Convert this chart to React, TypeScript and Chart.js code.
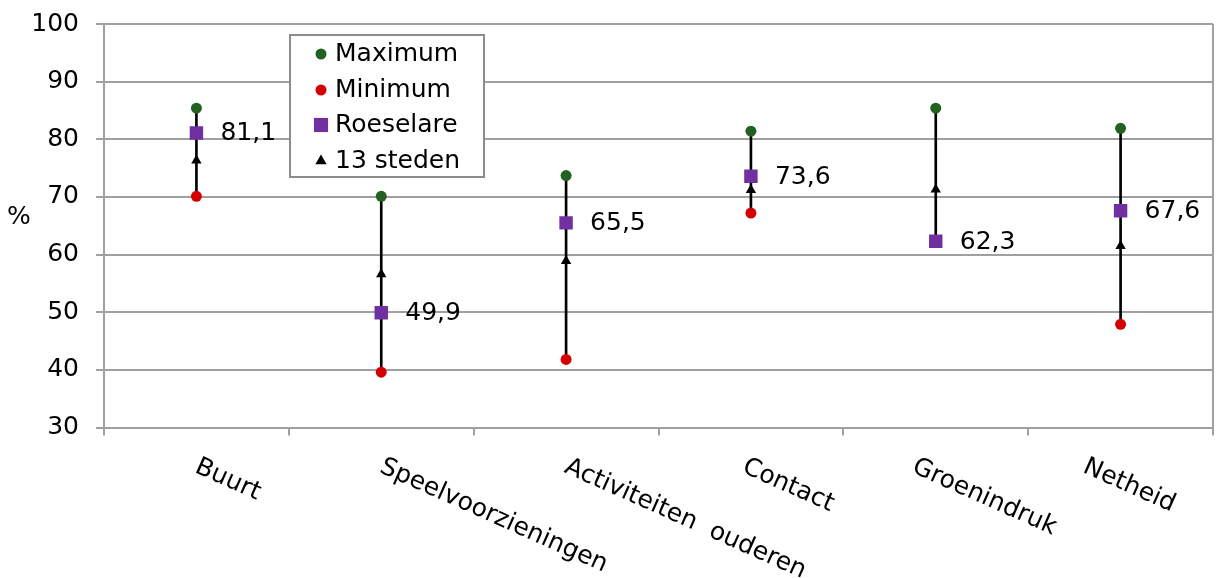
import React, { useEffect, useRef } from 'react';
import { Chart, registerables } from 'chart.js';

Chart.register(...registerables);

// ---- data ----
const categories = ['Buurt', 'Speelvoorzieningen', 'Activiteiten  ouderen', 'Contact', 'Groenindruk', 'Netheid'];
const maximum = [85.4, 70.1, 73.7, 81.4, 85.4, 81.9];
const minimum = [70.1, 39.6, 41.8, 67.2, 62.3, 47.9];
const roeselare = [81.1, 49.9, 65.5, 73.6, 62.3, 67.6];
const steden13 = [76.3, 56.6, 58.9, 71.2, 71.3, 61.5];
const yMin = 30;
const yMax = 100;
const yStep = 10;
const yTitle = '%';

// ---- layout / style constants ----
const FONT = '"DejaVu Sans", Verdana, sans-serif';
const FS = 25;
const GRID = '#a0a0a0';
const GREEN = '#236123';
const RED = '#d40000';
const PURPLE = '#7030a0';
const LABEL_ANGLE = (24 * Math.PI) / 180;
const LABEL_SHIFT = [5, 5, 5, -2, -17, -31];

function drawMarker(ctx: CanvasRenderingContext2D, style: string, x: number, y: number, r: number, color: string) {
  ctx.save();
  ctx.fillStyle = color;
  ctx.beginPath();
  if (style === 'rect') {
    const s = Math.SQRT1_2 * r;
    ctx.rect(x - s, y - s, 2 * s, 2 * s);
  } else if (style === 'triangle') {
    ctx.moveTo(x, y - r);
    ctx.lineTo(x + 0.866 * r, y + 0.5 * r);
    ctx.lineTo(x - 0.866 * r, y + 0.5 * r);
    ctx.closePath();
  } else {
    ctx.arc(x, y, r, 0, Math.PI * 2);
  }
  ctx.fill();
  ctx.restore();
}

const decorPlugin = {
  id: 'decor',
  beforeDatasetsDraw(chart: any) {
    const { ctx, chartArea } = chart;
    ctx.save();
    ctx.strokeStyle = GRID;
    ctx.lineWidth = 2;
    ctx.beginPath();
    ctx.moveTo(chartArea.right, chartArea.top);
    ctx.lineTo(chartArea.right, chartArea.bottom);
    ctx.stroke();
    ctx.restore();
  },
  afterDraw(chart: any) {
    const { ctx, chartArea } = chart;
    const xs = chart.scales.x;
    const ys = chart.scales.y;
    ctx.save();
    ctx.fillStyle = '#000';
    ctx.font = `${FS}px ${FONT}`;

    // y title
    ctx.textAlign = 'center';
    ctx.textBaseline = 'middle';
    ctx.fillText(yTitle, 19, (chartArea.top + chartArea.bottom) / 2 - 8);

    // rotated category labels
    categories.forEach((c, i) => {
      const x = xs.getPixelForValue(i) + LABEL_SHIFT[i];
      ctx.save();
      ctx.translate(x, chartArea.bottom + 27);
      ctx.rotate(LABEL_ANGLE);
      ctx.textAlign = 'left';
      ctx.textBaseline = 'top';
      ctx.fillText(c, 0, 0);
      ctx.restore();
    });

    // Roeselare value labels
    ctx.textAlign = 'left';
    ctx.textBaseline = 'middle';
    roeselare.forEach((v, i) => {
      const x = xs.getPixelForValue(i);
      const y = ys.getPixelForValue(v);
      ctx.fillText(v.toFixed(1).replace('.', ','), x + 24, y + 1);
    });

    // legend box
    const bx = 290, by = 35, bw = 194, bh = 142;
    ctx.fillStyle = '#fff';
    ctx.fillRect(bx, by, bw, bh);
    ctx.strokeStyle = '#8c8c8c';
    ctx.lineWidth = 2;
    ctx.strokeRect(bx, by, bw, bh);
    const rows = [53, 89, 124, 160];
    chart.data.datasets.slice(1).forEach((ds: any, i: number) => {
      drawMarker(ctx, ds.pointStyle, 321, rows[i] + 1, ds.legendRadius, ds.backgroundColor);
      ctx.fillStyle = '#000';
      ctx.textAlign = 'left';
      ctx.textBaseline = 'middle';
      ctx.fillText(ds.label, 335, rows[i] + 1);
    });
    ctx.restore();
  },
};

export default function App() {
  const ref = useRef<HTMLCanvasElement | null>(null);

  useEffect(() => {
    document.body.style.margin = '0';
    if (!ref.current) return;
    const chart = new Chart(ref.current, {
      type: 'bar',
      data: {
        labels: categories,
        datasets: [
          {
            type: 'bar',
            label: 'range',
            data: categories.map((_, i) => [minimum[i], maximum[i]]) as any,
            backgroundColor: '#000',
            borderWidth: 0,
            barThickness: 2,
            order: 10,
          } as any,
          {
            type: 'line',
            label: 'Maximum',
            data: maximum,
            showLine: false,
            pointStyle: 'circle',
            pointRadius: 5.5,
            legendRadius: 5.5,
            backgroundColor: GREEN,
            borderColor: GREEN,
            pointBorderWidth: 0,
            order: 3,
          } as any,
          {
            type: 'line',
            label: 'Minimum',
            data: minimum,
            showLine: false,
            pointStyle: 'circle',
            pointRadius: 5.5,
            legendRadius: 5.5,
            backgroundColor: RED,
            borderColor: RED,
            pointBorderWidth: 0,
            order: 3,
          } as any,
          {
            type: 'line',
            label: 'Roeselare',
            data: roeselare,
            showLine: false,
            pointStyle: 'rect',
            pointRadius: 9.5,
            legendRadius: 10,
            backgroundColor: PURPLE,
            borderColor: PURPLE,
            pointBorderWidth: 0,
            order: 1,
          } as any,
          {
            type: 'line',
            label: '13 steden',
            data: steden13,
            showLine: false,
            pointStyle: 'triangle',
            pointRadius: 6,
            legendRadius: 6.5,
            backgroundColor: '#000',
            borderColor: '#000',
            pointBorderWidth: 0,
            order: 2,
          } as any,
        ],
      },
      options: {
        animation: false,
        responsive: true,
        maintainAspectRatio: false,
        events: [],
        layout: { autoPadding: false, padding: { top: 24, right: 3, bottom: 0, left: 0 } },
        plugins: {
          legend: { display: false },
          tooltip: { enabled: false },
        },
        scales: {
          x: {
            offset: true,
            grid: {
              offset: true,
              drawOnChartArea: false,
              drawTicks: true,
              tickLength: 8,
              color: GRID,
              lineWidth: 2,
            },
            border: { display: true, color: GRID, width: 2 },
            ticks: { display: false },
            afterFit(scale: any) {
              scale.height = 150.5;
            },
          },
          y: {
            min: yMin,
            max: yMax,
            grid: { color: GRID, lineWidth: 2, tickLength: 8, drawTicks: true },
            border: { display: true, color: GRID, width: 2 },
            ticks: {
              stepSize: yStep,
              padding: 17,
              color: '#000',
              font: { family: FONT, size: FS },
            },
            afterFit(scale: any) {
              scale.width = 104;
              scale.paddingTop = 0;
              scale.paddingBottom = 0;
            },
          },
        },
      },
      plugins: [decorPlugin],
    });
    return () => chart.destroy();
  }, []);

  return (
    <div style={{ position: 'absolute', left: 0, top: 0, width: 1216, height: 578 }}>
      <canvas ref={ref} />
    </div>
  );
}
